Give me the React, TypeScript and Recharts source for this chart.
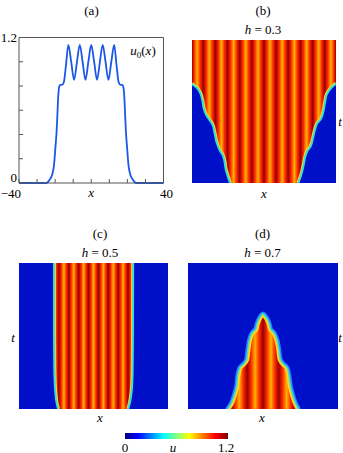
import React from "react"
import { LineChart, Line, ComposedChart, Area, XAxis, YAxis } from "recharts"

// (a) initial profile u0(x)
const profileX = [-40, -24.8, -23.6, -22.5, -21.6, -20.6, -19.8, -19.2, -18.7, -18.3, -17.8, -17.2, -16.2, -15.2, -14.0, -12.7, -11.1, -9.5, -7.9, -6.35, -4.8, -3.2, -1.6, 0, 1.6, 3.2, 4.8, 6.35, 7.9, 9.5, 11.1, 12.7, 14.0, 15.2, 16.2, 17.2, 17.8, 18.3, 18.7, 19.2, 19.8, 20.6, 21.6, 22.5, 23.6, 24.8, 40]
const profileU = [0, 0, 0.015, 0.04, 0.07, 0.15, 0.3, 0.42, 0.58, 0.71, 0.79, 0.81, 0.81, 0.83, 0.97, 1.14, 1.0, 0.85, 1.0, 1.14, 1.0, 0.85, 1.0, 1.14, 1.0, 0.85, 1.0, 1.14, 1.0, 0.85, 1.0, 1.14, 0.97, 0.83, 0.81, 0.81, 0.79, 0.71, 0.58, 0.42, 0.3, 0.15, 0.07, 0.04, 0.015, 0, 0]
const xTicks = [-40, -30, -20, -10, 0, 10, 20, 30, 40]
const uTicks = [0, 0.2, 0.4, 0.6, 0.8, 1, 1.2]

// (b) h = 0.3 : front position x(t) on each side
const frontBLeftT = [0, 0.05, 0.096, 0.154, 0.2, 0.224, 0.282, 0.352, 0.41, 0.434, 0.469, 0.527, 0.573, 0.63, 0.666, 0.69, 0.7]
const frontBLeftX = [-18.9, -20.2, -21.3, -22.0, -23.1, -24.4, -26.3, -27.5, -28.7, -29.9, -31.8, -33.6, -34.2, -35.5, -37.3, -39.7, -40]
const frontBRightT = [0, 0.049, 0.119, 0.177, 0.224, 0.259, 0.306, 0.376, 0.418, 0.446, 0.481, 0.562, 0.62, 0.655, 0.683, 0.695]
const frontBRightX = [19.1, 20.5, 21.9, 22.8, 24.1, 26.0, 27.1, 28.4, 29.6, 31.5, 32.6, 33.9, 34.9, 36.7, 38.9, 40]
// stripe profile u(x) inside the pattern
const stripeBX = [-40.5, -38.81, -37.13, -35.44, -33.75, -32.06, -30.38, -28.69, -27, -25.31, -23.63, -21.94, -20.25, -18.56, -16.88, -15.19, -13.5, -11.81, -10.13, -8.44, -6.75, -5.06, -3.38, -1.69, 0, 1.69, 3.38, 5.06, 6.75, 8.44, 10.13, 11.81, 13.5, 15.19, 16.88, 18.56, 20.25, 21.94, 23.63, 25.31, 27, 28.69, 30.38, 32.06, 33.75, 35.44, 37.13, 38.81, 40.5]
const stripeBU = [1.17, 1.0, 0.84, 1.0, 1.17, 1.0, 0.84, 1.0, 1.17, 1.0, 0.84, 1.0, 1.17, 1.0, 0.84, 1.0, 1.17, 1.0, 0.84, 1.0, 1.17, 1.0, 0.84, 1.0, 1.17, 1.0, 0.84, 1.0, 1.17, 1.0, 0.84, 1.0, 1.17, 1.0, 0.84, 1.0, 1.17, 1.0, 0.84, 1.0, 1.17, 1.0, 0.84, 1.0, 1.17, 1.0, 0.84, 1.0, 1.17]

// (c) h = 0.5
const frontCT = [0, 0.04, 0.1, 0.2, 0.35, 0.6, 1]
const frontCLeftX = [-19.0, -19.8, -20.4, -20.9, -21.1, -21.2, -21.2]
const frontCRightX = [18.6, 19.5, 20.3, 20.9, 21.1, 21.2, 21.3]
const stripeCX = [-23.85, -22.53, -21.2, -19.88, -18.55, -17.23, -15.9, -14.58, -13.25, -11.93, -10.6, -9.28, -7.95, -6.63, -5.3, -3.98, -2.65, -1.33, 0, 1.33, 2.65, 3.98, 5.3, 6.63, 7.95, 9.28, 10.6, 11.93, 13.25, 14.58, 15.9, 17.23, 18.55, 19.88, 21.2, 22.53, 23.85]
const stripeCU = [1.17, 1.0, 0.84, 1.0, 1.17, 1.0, 0.84, 1.0, 1.17, 1.0, 0.84, 1.0, 1.17, 1.0, 0.84, 1.0, 1.17, 1.0, 0.84, 1.0, 1.17, 1.0, 0.84, 1.0, 1.17, 1.0, 0.84, 1.0, 1.17, 1.0, 0.84, 1.0, 1.17, 1.0, 0.84, 1.0, 1.17]

// (d) h = 0.7 : pattern shrinks to a tip
const frontDT = [0, 0.027, 0.084, 0.153, 0.233, 0.279, 0.301, 0.336, 0.404, 0.484, 0.518, 0.541, 0.575, 0.615, 0.637]
const frontDLeftX = [-17.8, -16.4, -14.7, -13.2, -12.5, -11.5, -9.7, -7.9, -7.2, -6.1, -4.9, -3.1, -2.4, -1.2, 0]
const frontDRightX = [17.9, 16.8, 15.2, 13.8, 12.9, 12.0, 10.2, 8.4, 7.6, 6.3, 5.0, 3.3, 2.6, 1.3, 0]
const stripeDX = [-21, -18.9, -16.8, -14.7, -12.6, -10.5, -8.4, -6.3, -4.2, -2.1, 0, 2.1, 4.2, 6.3, 8.4, 10.5, 12.6, 14.7, 16.8, 18.9, 21]
const stripeDU = [0.84, 1.0, 1.17, 1.0, 0.84, 1.0, 1.17, 1.0, 0.84, 1.0, 1.17, 1.0, 0.84, 1.0, 1.17, 1.0, 0.84, 1.0, 1.17, 1.0, 0.84]

const colorbarU = [0, 0.15, 0.3, 0.45, 0.6, 0.75, 0.9, 1.05, 1.2]

const FONT = "Liberation Serif, DejaVu Serif, serif"
const AXIS = "#555"
const LINE = "#1c58e6"
const BLUE = "#0010c8"
const WARM = "#ffd21e"
const COLD = "#36e0d0"
const HALO = "#2f7cff"
const M0 = { top: 0, right: 0, bottom: 0, left: 0 }
const panelRect = [{ t: 0, x: 40 }, { t: 1, x: 40 }]

// matlab style jet colormap on [0, 1.2]
function jet(u: number) {
  const v = Math.max(0, Math.min(1, u / 1.2))
  const c = (a: number) => Math.round(255 * Math.max(0, Math.min(1, 1.5 - Math.abs(4 * v - a))))
  return `rgb(${c(3)},${c(2)},${c(1)})`
}

function stops(xs: number[], us: number[]) {
  return xs.map((x, i) => (
    <stop key={i} offset={Math.min(1, Math.max(0, (x + 40) / 80))} stopColor={jet(us[i])} />
  ))
}

const rowsOf = (ts: number[], xs: number[]) => ts.map((t, i) => ({ t, x: xs[i] }))

const profileRows = profileX.map((x, i) => ({ x, u: profileU[i] }))

function BottomTick(props: any) {
  const { x, y, payload } = props
  const v = payload.value
  const style = { fontFamily: FONT, fontSize: 13, fill: "#000" }
  if (v === -40) return <text x={x + 2} y={y + 11} textAnchor="end" style={style}>−40</text>
  if (v === 40) return <text x={x + 3} y={y + 11} textAnchor="middle" style={style}>40</text>
  if (v === 0) return <text x={x} y={y + 10} textAnchor="middle" style={{ ...style, fontStyle: "italic" }}>x</text>
  return <g />
}

function LeftTick(props: any) {
  const { x, y, payload } = props
  const v = payload.value
  if (v !== 0 && v !== 1.2) return <g />
  return (
    <text x={x} y={v === 0 ? y - 1 : y + 4} textAnchor="end" style={{ fontFamily: FONT, fontSize: 13, fill: "#000" }}>
      {v === 0 ? "0" : "1.2"}
    </text>
  )
}

function Label({ x, y, children, italic }: { x: number; y: number; children: React.ReactNode; italic?: boolean }) {
  return (
    <div
      style={{
        position: "absolute",
        left: x,
        top: y,
        transform: "translate(-50%, -50%)",
        fontFamily: FONT,
        fontSize: 13,
        lineHeight: 1,
        whiteSpace: "nowrap",
        fontStyle: italic ? "italic" : "normal",
        color: "#000",
      }}
    >
      {children}
    </div>
  )
}

function Title({ x, y, h }: { x: number; y: number; h: string }) {
  return (
    <Label x={x} y={y}>
      <i>h</i> = {h}
    </Label>
  )
}

// pattern spreads or is pinned: blue regions lie outside the two fronts
function SideFronts({ id, w, h, xs, us, left, right, warm, cold }: any) {
  return (
    <ComposedChart width={w} height={h} layout="vertical" margin={M0}>
      <defs>
        <linearGradient id={id} x1="0" y1="0" x2="1" y2="0">
          {stops(xs, us)}
        </linearGradient>
      </defs>
      <XAxis type="number" domain={[-40, 40]} hide allowDataOverflow />
      <YAxis type="number" dataKey="t" domain={[0, 1]} reversed hide allowDataOverflow />
      <Area data={panelRect} dataKey="x" baseValue="dataMin" type="linear" fill={`url(#${id})`} fillOpacity={1} stroke="none" isAnimationActive={false} />
      <Area data={left} dataKey="x" baseValue="dataMin" type="monotone" fill="none" stroke={WARM} strokeWidth={warm} isAnimationActive={false} />
      <Area data={right} dataKey="x" baseValue="dataMax" type="monotone" fill="none" stroke={WARM} strokeWidth={warm} isAnimationActive={false} />
      <Area data={left} dataKey="x" baseValue="dataMin" type="monotone" fill={BLUE} fillOpacity={1} stroke={COLD} strokeWidth={cold} isAnimationActive={false} />
      <Area data={right} dataKey="x" baseValue="dataMax" type="monotone" fill={BLUE} fillOpacity={1} stroke={COLD} strokeWidth={cold} isAnimationActive={false} />
    </ComposedChart>
  )
}

const rowsD = frontDT.map((t, i) => ({ t, xl: frontDLeftX[i], xr: frontDRightX[i] }))
const rangeD = (r: { xl: number; xr: number }) => [r.xl, r.xr]

function ShrinkingPattern({ w, h }: { w: number; h: number }) {
  return (
    <ComposedChart width={w} height={h} layout="vertical" margin={M0}>
      <defs>
        <linearGradient id="stripesD" gradientUnits="userSpaceOnUse" x1={0} y1={0} x2={w} y2={0}>
          {stops(stripeDX, stripeDU)}
        </linearGradient>
      </defs>
      <XAxis type="number" domain={[-40, 40]} hide allowDataOverflow />
      <YAxis type="number" dataKey="t" domain={[0, 1]} reversed hide allowDataOverflow />
      <Area data={panelRect} dataKey="x" baseValue="dataMin" type="linear" fill={BLUE} fillOpacity={1} stroke="none" isAnimationActive={false} />
      <Area data={rowsD} dataKey={rangeD} type="monotone" fill="none" stroke={HALO} strokeWidth={8} strokeLinecap="round" isAnimationActive={false} />
      <Area data={rowsD} dataKey={rangeD} type="monotone" fill="none" stroke={COLD} strokeWidth={5} strokeLinecap="round" isAnimationActive={false} />
      <Area data={rowsD} dataKey={rangeD} type="monotone" fill="url(#stripesD)" fillOpacity={1} stroke={WARM} strokeWidth={2} strokeLinecap="round" isAnimationActive={false} />
    </ComposedChart>
  )
}

export default function App() {
  const barGradient = `linear-gradient(to right, ${colorbarU.map((u, i) => `${jet(u)} ${(i / (colorbarU.length - 1)) * 100}%`).join(", ")})`
  return (
    <div style={{ position: "absolute", left: 0, top: 0, width: 343, height: 453, background: "#fff", overflow: "hidden" }}>
      {/* (a) */}
      <div style={{ position: "absolute", left: 0, top: 0 }}>
        <LineChart width={175} height={200} data={profileRows} margin={M0}>
          <XAxis dataKey="x" type="number" domain={[-40, 40]} ticks={xTicks} interval={0} height={17} tickSize={-4} tickMargin={8} stroke={AXIS} tick={<BottomTick />} />
          <XAxis xAxisId="top" orientation="top" type="number" domain={[-40, 40]} ticks={xTicks} interval={0} height={37.5} tickSize={-4} tick={false} stroke={AXIS} />
          <YAxis type="number" domain={[0, 1.2]} ticks={uTicks} interval={0} width={19} tickSize={-4} tickMargin={6} stroke={AXIS} tick={<LeftTick />} />
          <YAxis yAxisId="right" orientation="right" type="number" domain={[0, 1.2]} ticks={uTicks} interval={0} width={11.5} tickSize={-4} tick={false} stroke={AXIS} />
          <Line dataKey="u" type="monotone" stroke={LINE} strokeWidth={1.8} dot={false} isAnimationActive={false} />
        </LineChart>
      </div>
      <Label x={91.5} y={10}>(a)</Label>
      <Label x={143} y={52}>
        <i>u</i>
        <sub style={{ fontSize: 9, fontStyle: "normal" }}>0</sub>(<i>x</i>)
      </Label>

      {/* (b) */}
      <div style={{ position: "absolute", left: 192, top: 40 }}>
        <SideFronts id="stripesB" w={144} h={143} xs={stripeBX} us={stripeBU} left={rowsOf(frontBLeftT, frontBLeftX)} right={rowsOf(frontBRightT, frontBRightX)} warm={4} cold={2} />
      </div>
      <Label x={263} y={10}>(b)</Label>
      <Title x={263} y={29} h="0.3" />
      <Label x={264} y={193} italic>x</Label>
      <Label x={340} y={121} italic>t</Label>

      {/* (c) */}
      <div style={{ position: "absolute", left: 19, top: 263 }}>
        <SideFronts id="stripesC" w={149} h={146} xs={stripeCX} us={stripeCU} left={rowsOf(frontCT, frontCLeftX)} right={rowsOf(frontCT, frontCRightX)} warm={4} cold={2} />
      </div>
      <Label x={100} y={233}>(c)</Label>
      <Title x={100} y={252} h="0.5" />
      <Label x={100} y={417} italic>x</Label>
      <Label x={13} y={337} italic>t</Label>

      {/* (d) */}
      <div style={{ position: "absolute", left: 188, top: 263 }}>
        <ShrinkingPattern w={150} h={146} />
      </div>
      <Label x={262.5} y={233}>(d)</Label>
      <Title x={262.5} y={252} h="0.7" />
      <Label x={262} y={417} italic>x</Label>
      <Label x={340} y={337} italic>t</Label>

      {/* colour bar */}
      <div style={{ position: "absolute", left: 125, top: 433, width: 103, height: 5.5, background: barGradient }} />
      <Label x={125} y={447}>0</Label>
      <Label x={173} y={447} italic>u</Label>
      <Label x={226} y={447}>1.2</Label>
    </div>
  )
}
